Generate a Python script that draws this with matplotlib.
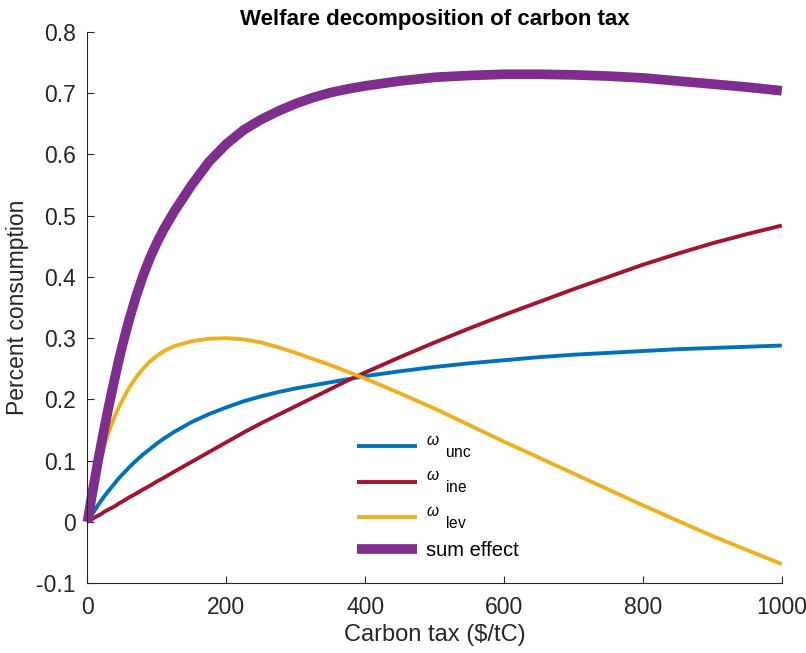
import matplotlib
matplotlib.use("Agg")
import matplotlib.pyplot as plt

plt.rcParams['font.family'] = ['Liberation Sans', 'DejaVu Sans']
plt.rcParams['mathtext.fontset'] = 'custom'
plt.rcParams['mathtext.rm'] = 'Liberation Sans'
plt.rcParams['mathtext.it'] = 'Liberation Sans:italic'

# Carbon tax grid ($/tC)
tax = [0, 5, 10, 15, 20, 25, 30, 35, 40, 45, 50, 60, 70, 80, 90, 100, 110,
       125, 150, 175, 200, 225, 250, 275, 300, 325, 350, 375, 400, 450, 500,
       550, 600, 650, 700, 750, 800, 850, 900, 950, 1000]

w_unc = [0, 0.009, 0.018, 0.027, 0.035, 0.043, 0.050, 0.057, 0.064, 0.071,
         0.077, 0.089, 0.100, 0.110, 0.119, 0.128, 0.136, 0.147, 0.163,
         0.176, 0.187, 0.197, 0.205, 0.212, 0.218, 0.223, 0.228, 0.233,
         0.238, 0.246, 0.253, 0.259, 0.264, 0.269, 0.273, 0.276, 0.279,
         0.282, 0.284, 0.286, 0.288]

w_ine = [0, 0.003, 0.007, 0.010, 0.013, 0.017, 0.020, 0.023, 0.026, 0.030,
         0.033, 0.040, 0.046, 0.053, 0.059, 0.066, 0.072, 0.082, 0.098,
         0.114, 0.130, 0.146, 0.161, 0.175, 0.189, 0.203, 0.217, 0.231,
         0.244, 0.269, 0.293, 0.316, 0.338, 0.359, 0.380, 0.400, 0.420,
         0.438, 0.455, 0.470, 0.484]

w_lev = [0, 0.032, 0.060, 0.085, 0.107, 0.126, 0.144, 0.160, 0.174, 0.187,
         0.198, 0.219, 0.236, 0.250, 0.262, 0.271, 0.279, 0.287, 0.295,
         0.299, 0.300, 0.298, 0.293, 0.285, 0.276, 0.266, 0.256, 0.245,
         0.234, 0.210, 0.185, 0.158, 0.131, 0.105, 0.079, 0.053, 0.027,
         0.002, -0.023, -0.046, -0.069]

w_sum = [0, 0.034, 0.066, 0.098, 0.128, 0.157, 0.185, 0.212, 0.238, 0.263,
         0.287, 0.330, 0.368, 0.402, 0.431, 0.456, 0.478, 0.507, 0.550,
         0.588, 0.617, 0.640, 0.657, 0.671, 0.683, 0.693, 0.701, 0.707,
         0.712, 0.720, 0.726, 0.729, 0.731, 0.731, 0.730, 0.728, 0.725,
         0.720, 0.715, 0.710, 0.704]

labels = [r'$^{\omega}\ _{\mathrm{unc}}$', r'$^{\omega}\ _{\mathrm{ine}}$',
          r'$^{\omega}\ _{\mathrm{lev}}$', 'sum effect']
colors = ['#0072BD', '#A2142F', '#EDB120', '#7E2F8E']

xticks = [0, 200, 400, 600, 800, 1000]
yticks = [-0.1, 0, 0.1, 0.2, 0.3, 0.4, 0.5, 0.6, 0.7, 0.8]
ytick_labels = ['-0.1', '0', '0.1', '0.2', '0.3', '0.4', '0.5', '0.6', '0.7', '0.8']

fig = plt.figure(figsize=(8.06, 6.53), dpi=100)
ax = fig.add_axes([0.1085, 0.107, 0.8615, 0.844])

for data, lab, c, lw in zip([w_unc, w_ine, w_lev, w_sum], labels, colors,
                            [2.8, 2.8, 2.8, 7.0]):
    ax.plot(tax, data, color=c, lw=lw, label=lab, solid_capstyle='butt',
            solid_joinstyle='round', clip_on=False)

ax.set_xlim(0, 1000)
ax.set_ylim(-0.1, 0.8)
ax.set_xticks(xticks)
ax.set_yticks(yticks)
ax.set_yticklabels(ytick_labels)

for s in ['top', 'right']:
    ax.spines[s].set_visible(False)
for s in ['left', 'bottom']:
    ax.spines[s].set_color('#262626')
    ax.spines[s].set_linewidth(0.8)

ax.tick_params(direction='in', length=5, width=0.8, colors='#262626',
               labelsize=16.5)
ax.tick_params(axis='y', pad=8.5)
ax.tick_params(axis='x', pad=9)
for t in ax.get_xticklabels() + ax.get_yticklabels():
    t.set_color('#262626')

ax.set_xlabel('Carbon tax ($/tC)', fontsize=17, color='#262626', labelpad=4)
ax.set_ylabel('Percent consumption', fontsize=16.5, color='#262626', labelpad=5)
ax.set_title('Welfare decomposition of carbon tax', fontsize=16,
             fontweight='bold', pad=5)

leg = ax.legend(loc='lower left', bbox_to_anchor=(0.36, 0.005), frameon=False,
                fontsize=16, handlelength=2.7, handletextpad=0.4,
                labelspacing=0.45)
leg.get_texts()[3].set_fontsize(14.5)

fig.savefig('out.png', dpi=100)
